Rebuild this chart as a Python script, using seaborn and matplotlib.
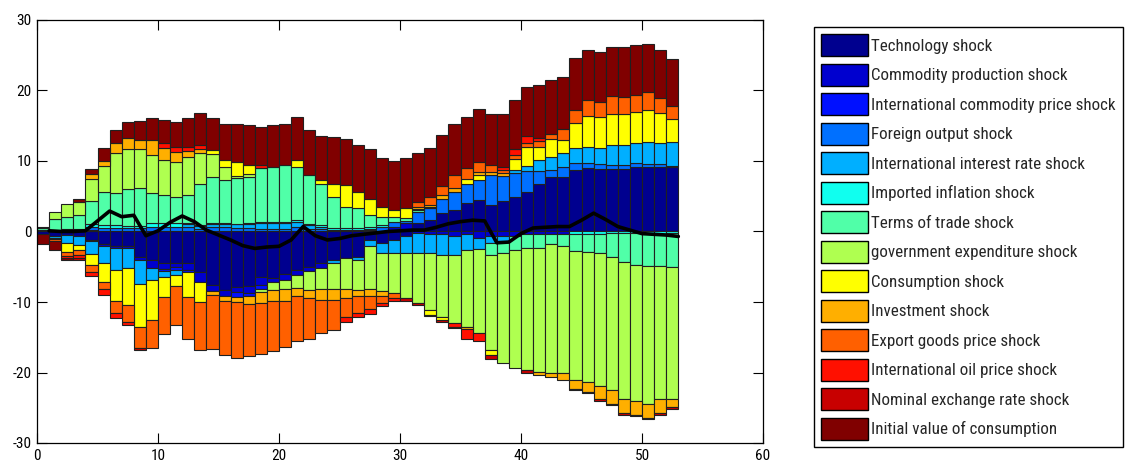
import numpy as np
import pandas as pd
import matplotlib
matplotlib.use("Agg")
import matplotlib.pyplot as plt
import seaborn as sns
from matplotlib.patches import Patch
from matplotlib import font_manager as fm

# ---------------- data ----------------
shock_names = ["Technology shock", "Commodity production shock",
               "International commodity price shock", "Foreign output shock",
               "International interest rate shock", "Imported inflation shock",
               "Terms of trade shock", "government expenditure shock",
               "Consumption shock", "Investment shock", "Export goods price shock",
               "International oil price shock", "Nominal exchange rate shock",
               "Initial value of consumption"]
shock_colors = ["#00008F", "#0000CF", "#0010FF", "#0070FF", "#00AFFF", "#10FFEF",
                "#50FFA8", "#AFFF50", "#FFFF00", "#FFAF00", "#FF6000", "#FF1000",
                "#C80000", "#800000"]

periods = list(range(1, 54))

technology = [-0.4, -0.6, -0.5, -0.7, -1.2, -1.8, -2.1, -2.0, -3.6, -4.0,
              -4.5, -4.5, -4.5, -5.7, -7.6, -8.3, -7.9, -7.8, -6.4, -6.6,
              -6.0, -5.4, -5.0, -4.5, -4.0, -3.8, -3.55, -1.2, -1.7, -1.2,
              -0.7, 1.15, 1.6, 2.6, 3.05, 4.0, 4.5, 3.8, 4.3, 4.95,
              5.65, 6.75, 7.8, 7.8, 8.7, 9.0, 8.8, 8.8, 8.8, 9.1,
              9.1, 9.1, 9.2]
commodity_prod = [0, 0, 0, 0, -0.2, -0.3, -0.3, -0.4, -0.5, -1.2,
                  -0.8, -0.6, -0.9, -1.4, -0.9, -0.9, -0.7, -0.9, -1.2, -0.5,
                  -0.9, -0.7, -0.6, -0.7, 0, 0, 0, 0.15, 0.1, 0.6,
                  1.15, -0.15, -0.3, -0.3, -0.7, -0.3, -0.9, -0.7, -0.6, -0.7,
                  -0.3, -0.3, -0.3, -0.3, 0, 0, 0, 0, 0, 0,
                  0, 0, 0]
intl_commodity = [0, 0, 0, 0, 0.2, 0, 0, 0, 0, 0,
                  -0.3, -0.3, -0.3, 0, 0, 0, -0.7, -0.5, -0.5, 0,
                  0, 0, 0, 0, 0, 0, 0, 0, 0, 0,
                  0, 0, 0, 0, 0, 0, 0, 0, 0, 0,
                  0, 0, 0, 0, 0, 0, 0, 0, 0, 0,
                  0, 0, 0]
foreign_output = [0.05, 0.1, 0.2, 0.2, 0.5, 0.5, 0.5, 0.5, 0.5, 0.6,
                  0.6, 0.6, 0.6, 0.4, 0.6, 0.6, 0.5, 0.5, 0.3, 0.4,
                  0.4, 0.6, 0.4, 0.3, 0.2, 0.2, 0.2, 0.2, 0.6, 0.8,
                  0.4, 1.65, 1.7, 2.05, 2.6, 2.8, 2.8, 4.2, 3.6, 3.3,
                  3.0, 1.9, 0.9, 1.4, 1.0, 0.7, 0.8, 0.6, 0.6, 0.6,
                  0.5, 0.5, 0.1]
intl_rate = [0, -0.3, -1.1, -1.2, -1.8, -2.4, -3.1, -2.8, -3.3, -1.7,
             -0.8, -0.7, 0.5, 0.4, 0.5, 0.5, 0.5, 0.6, 0.9, 0.8,
             0.8, 0.8, 0.5, 0.4, -0.5, 0, -0.45, -0.9, -1.4, -1.9,
             -2.4, -2.95, -2.8, -3.0, -2.6, -2.3, -1.6, -0.9, -0.9, 0.45,
             0.65, 1.5, 1.9, 1.9, 2.1, 2.35, 2.3, 2.8, 2.8, 2.8,
             3.1, 2.9, 3.4]
imported_inflation = [0.1, 0.1, 0.2, 0.2, 0.3, 0.4, 0.4, 0.3, 0.3, 0.6,
                      0.6, 0.55, 0.1, 0.1, 0.1, 0.1, 0.1, 0.1, 0.2, 0.2,
                      0.2, 0.2, 0.2, 0.2, 0.25, 0.25, 0.3, 0.3, 0.2, 0,
                      0, 0, 0, 0, 0, 0, 0, 0, 0, 0,
                      0, 0, 0, 0, -0.3, -0.3, -0.3, -0.2, -0.2, -0.2,
                      -0.2, -0.3, -0.2]
terms_of_trade = [0.4, 1.6, 1.7, 2.0, 3.3, 4.75, 4.6, 5.2, 5.3, 4.2,
                  4.0, 3.75, 4.0, 5.9, 6.6, 6.1, 6.45, 6.6, 7.6, 7.8,
                  8.0, 7.6, 6.9, 5.9, 4.4, 3.05, 2.8, 1.65, 1.2, 0.6,
                  0.3, 0.2, 0.2, 0, 0, 0, 0, -1.7, -1.6, -1.9,
                  -2.1, -2.1, -1.5, -1.8, -2.4, -2.6, -2.8, -3.4, -4.1, -4.55,
                  -4.7, -4.6, -4.8]
government = [0.15, 0.9, 1.8, 1.8, 3.1, 3.65, 5.6, 5.7, 5.6, 5.5,
              4.9, 5.0, 5.4, 4.4, 3.2, 1.9, 0.35, 0.4, -0.5, -1.2,
              -1.2, -1.9, -2.7, -2.9, -3.6, -4.3, -4.3, -6.1, -5.4, -5.6,
              -6.4, -7.1, -8.0, -8.8, -9.7, -10.9, -11.9, -13.5, -15.5, -16.8,
              -17.3, -17.5, -18.3, -18.0, -18.3, -18.4, -18.8, -18.9, -19.4, -19.35,
              -19.5, -18.9, -18.7]
consumption = [0, -0.2, -1.3, -0.7, -1.6, -2.6, -4.4, -5.2, -6.1, -5.6,
               -2.9, -1.7, -3.6, -2.9, 0.6, 0.9, 2.0, 1.25, 0, 0,
               0, 0.9, 0, 0.5, 1.95, 3.1, 2.35, 2.3, 1.4, 1.0,
               1.45, 0.2, -0.7, -0.5, 0, 0.7, 0.7, -0.7, 0, 1.55,
               2.7, 1.85, 2.5, 1.9, 3.6, 4.35, 4.3, 4.5, 4.5, 4.5,
               4.6, 4.3, 3.2]
investment = [0, 0, 0, 0, 0.75, 0.7, 1.4, 1.5, 1.3, 2.1,
              1.7, 1.4, 0.8, 0.45, -0.5, -0.6, -0.7, -1.15, -1.6, -1.6,
              -1.7, -1.2, -1.2, -1.6, -1.6, -1.4, -0.9, -0.9, -0.6, 0,
              0, 0.3, 0.2, 0.5, 0.45, -0.3, 0.5, 0.5, 0.4, 0,
              0, -0.4, -0.5, -1.0, -1.3, -1.4, -1.9, -1.9, -2.1, -1.9,
              -2.0, -1.9, -1.2]
export_price = [0, -0.3, -0.6, -0.7, -0.9, -1.1, -1.7, -2.4, -3.0, -4.0,
                -5.2, -5.4, -5.9, -6.8, -7.6, -7.7, -8.0, -7.3, -7.2, -7.1,
                -6.6, -6.4, -5.7, -4.7, -4.3, -2.6, -2.4, -1.9, -1.0, -0.7,
                0, 0.7, 1.2, 1.25, 1.9, 1.5, 1.4, 0.9, 0.4, 0.6,
                0.5, 0.8, 0.8, 1.6, 1.8, 2.25, 2.2, 2.5, 2.4, 2.4,
                2.5, 2.1, 1.9]
oil_price = [0, 0, -0.3, -0.4, -0.6, -0.8, -0.7, -0.5, 0, 0,
             0.8, 0.7, 0.6, 0.55, 0, 0, 0, 0, 0.4, 0,
             0, 0, 0, 0, 0, -0.8, -0.5, -0.7, -0.5, -0.5,
             0, 0, 0, 0, -0.5, -1.5, -1.2, 0, 0.4, 0.8,
             1.0, 0.4, 0, 0, 0, 0, 0, 0, 0, 0,
             0, 0, 0]
exchange_rate = [0, 0, 0, -0.4, 0, 0, 0, 0, -0.3, 0,
                 0, 0, 0, 0, 0, 0, 0, 0, 0, 0,
                 0, 0, 0, 0, 0, 0, 0, 0, 0, 0,
                 -0.3, -0.2, -0.2, -0.2, -0.2, 0, 0, -0.6, 0, 0,
                 -0.3, 0, 0, 0, -0.2, -0.2, -0.2, -0.2, -0.2, -0.2,
                 -0.2, -0.3, -0.3]
initial_value = [-1.4, -1.2, -0.3, 0.35, 0.7, 1.8, 1.9, 2.4, 2.7, 3.05,
                 3.2, 3.6, 4.05, 4.55, 4.45, 5.2, 5.4, 5.65, 5.4, 5.9,
                 5.9, 6.2, 6.4, 6.2, 6.6, 6.5, 6.55, 7.15, 6.9, 7.0,
                 7.1, 6.9, 7.0, 7.3, 7.3, 7.3, 7.5, 7.3, 7.6, 7.05,
                 7.0, 7.6, 7.6, 7.3, 7.4, 7.15, 7.1, 7.0, 7.1, 7.1,
                 6.8, 6.9, 6.6]
observed = [0.1, 0.0, 0.0, 0.1, 1.5, 2.9, 2.1, 2.3, -0.6, 0.1,
            1.3, 2.2, 1.4, 0.2, -0.5, -1.2, -2.0, -2.4, -2.2, -2.1,
            -1.2, 0.7, -0.6, -1.2, -1.0, -0.6, -0.4, -0.2, 0.0, 0.1,
            0.2, 0.2, 0.6, 1.1, 1.4, 1.6, 1.5, -1.6, -1.5, -0.3,
            0.5, 0.6, 0.7, 0.7, 1.6, 2.6, 1.7, 0.7, 0.2, -0.3,
            -0.4, -0.5, -0.7]

shock_values = [technology, commodity_prod, intl_commodity, foreign_output,
                intl_rate, imported_inflation, terms_of_trade, government,
                consumption, investment, export_price, oil_price,
                exchange_rate, initial_value]

# ---------------- style ----------------
sns.set_style("ticks")
names = {f.name for f in fm.fontManager.ttflist}
FONT = "Liberation Sans"
for cand in ["Liberation Sans Narrow", "Roboto Condensed", "Open Sans Condensed",
             "Liberation Sans"]:
    if cand in names:
        FONT = cand
        break
plt.rcParams["font.family"] = [FONT, "DejaVu Sans"]
plt.rcParams["axes.unicode_minus"] = False

W, H = 1133, 472
fig = plt.figure(figsize=(W / 100, H / 100), dpi=100)
fig.patch.set_facecolor("white")
ax = fig.add_axes([37 / W, 29 / H, 726 / W, 423 / H])

# choose legend font size so the longest label is ~243 px wide (as in reference)
renderer = fig.canvas.get_renderer()
probe = fig.text(0, 0, "International commodity price shock", fontsize=10)
wpx = probe.get_window_extent(renderer).width
probe.remove()
LEG_FS = min(14.5, 10 * 243.0 / wpx)
TICK_FS = min(11.5, LEG_FS * 0.9)

x = np.array(periods, dtype=float) - 0.5
pos_base = np.zeros(len(periods))
neg_base = np.zeros(len(periods))
for vals, col in zip(shock_values, shock_colors):
    v = np.array(vals, dtype=float)
    pos = np.where(v > 0, v, 0.0)
    neg = np.where(v < 0, v, 0.0)
    m = pos > 0
    if m.any():
        ax.bar(x[m], pos[m], bottom=pos_base[m], width=1.0, color=col,
               edgecolor="#202020", linewidth=0.8, zorder=2)
    m = neg < 0
    if m.any():
        ax.bar(x[m], neg[m], bottom=neg_base[m], width=1.0, color=col,
               edgecolor="#202020", linewidth=0.8, zorder=2)
    pos_base += pos
    neg_base += neg

df_line = pd.DataFrame({"period": periods, "value": observed})
sns.lineplot(data=df_line, x="period", y="value", color="black",
             linewidth=2.6, ax=ax, zorder=5, legend=False)

ax.set_xlim(0, 60)
ax.set_ylim(-30, 30)
ax.set_xticks(range(0, 61, 10))
ax.set_yticks(range(-30, 31, 10))
ax.set_xlabel("")
ax.set_ylabel("")
for s in ax.spines.values():
    s.set_visible(True)
    s.set_color("black")
    s.set_linewidth(0.9)
ax.tick_params(direction="in", top=True, right=True, length=7, width=0.8,
               labelsize=TICK_FS, colors="black", pad=4)
ax.set_facecolor("white")

# ---------------- legend ----------------
F = LEG_FS * 100 / 72.0
swatch_h = 22.0
hh = (swatch_h / F - 0.245) / 0.65   # matplotlib handle height incl. descent
handles = [Patch(facecolor=c, edgecolor="black", linewidth=1.0) for c in shock_colors]
leg = fig.legend(handles, shock_names, loc="upper left",
                 bbox_to_anchor=(814 / W, 1 - 27 / H),
                 bbox_transform=fig.transFigure, frameon=True, fancybox=False,
                 edgecolor="black", framealpha=1, fontsize=LEG_FS,
                 handlelength=47 / F, handleheight=hh, handletextpad=3 / F,
                 labelspacing=7.5 / F, borderpad=7 / F, borderaxespad=0)
leg.get_frame().set_linewidth(1.0)

fig.savefig("out.png", dpi=100, facecolor="white")
